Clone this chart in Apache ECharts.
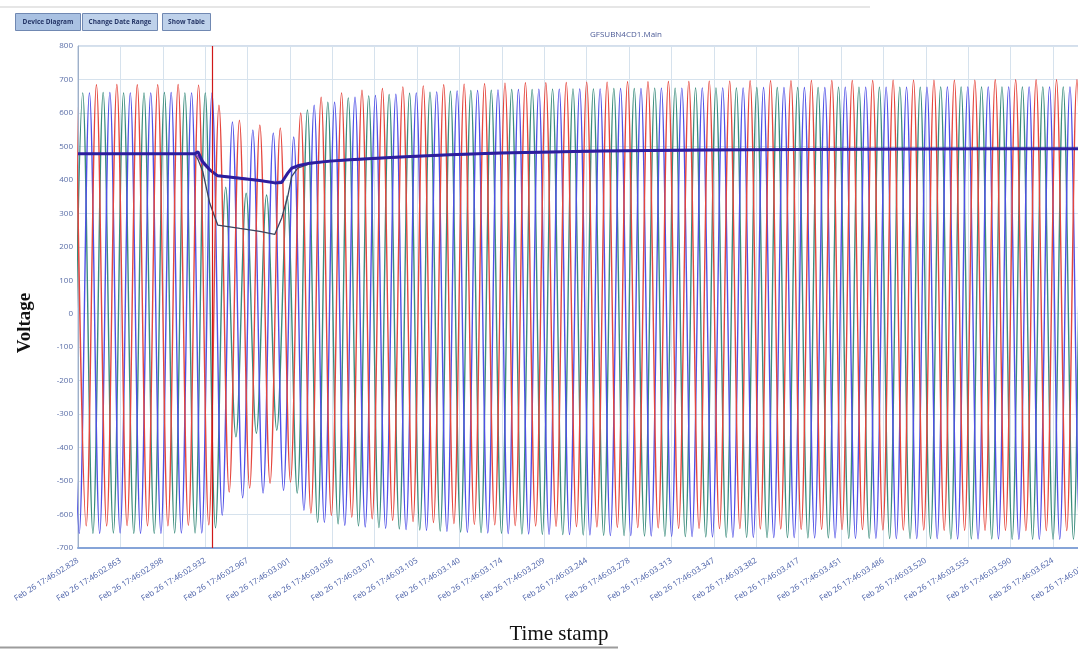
<!DOCTYPE html>
<html>
<head>
<meta charset="utf-8">
<script src="https://cdn.jsdelivr.net/npm/echarts@6/dist/echarts.min.js"></script>
<style>
  html, body { margin: 0; padding: 0; background: #ffffff; }
  #wrap { position: relative; width: 1078px; height: 649px; overflow: hidden; }
  #chart { position: absolute; left: 0; top: 0; width: 1100px; height: 649px; }
</style>
</head>
<body>
<div id="wrap"><div id="chart"></div></div>
<script>
// ---- Data ----
// X tick labels (one every 830/24 ms)
const tickLabels = [
  'Feb 26 17:46:02.828','Feb 26 17:46:02.863','Feb 26 17:46:02.898','Feb 26 17:46:02.932',
  'Feb 26 17:46:02.967','Feb 26 17:46:03.001','Feb 26 17:46:03.036','Feb 26 17:46:03.071',
  'Feb 26 17:46:03.105','Feb 26 17:46:03.140','Feb 26 17:46:03.174','Feb 26 17:46:03.209',
  'Feb 26 17:46:03.244','Feb 26 17:46:03.278','Feb 26 17:46:03.313','Feb 26 17:46:03.347',
  'Feb 26 17:46:03.382','Feb 26 17:46:03.417','Feb 26 17:46:03.451','Feb 26 17:46:03.486',
  'Feb 26 17:46:03.520','Feb 26 17:46:03.555','Feb 26 17:46:03.590','Feb 26 17:46:03.624',
  'Feb 26 17:46:03.659'
];
const axisSpanMs = 830;          // time covered by the 24 tick intervals (ms)
const halfCycleMs = 8.333;       // 60 Hz half cycle (ms): spacing of the peaks/troughs below
// time (ms) of first extreme of each phase
const greenStartMs = -4.48;
const blueStartMs = -7.33;
const redStartMs = -1.63;

// successive peak / trough voltages of each phase (alternating)
const greenExtremes = [
  -656, 660, -656, 661, -655, 660, -656, 660, -656, 661, -655, 660, -655, 660, -640, 378,
  -368, 360, -357, 355, -348, 352, -536, 609, -623, 632, -628, 645, -634, 651, -639, 655,
  -643, 659, -646, 662, -649, 665, -652, 667, -654, 668, -656, 670, -658, 670, -659, 671,
  -660, 672, -661, 672, -662, 673, -663, 673, -664, 674, -665, 674, -666, 675, -667, 675,
  -668, 675, -668, 676, -669, 676, -669, 676, -670, 676, -670, 677, -671, 677, -671, 677,
  -672, 677, -672, 677, -672, 678, -673, 678, -673, 678, -673, 678, -674, 678, -674, 678,
  -674, 678, -674, 678, -674, 678
];
const blueExtremes = [
  660, -656, 660, -656, 661, -655, 660, -656, 660, -656, 661, -655, 660, -655, 660, -602,
  573, -550, 549, -536, 540, -528, 528, -587, 623, -623, 632, -632, 647, -637, 652, -641,
  656, -645, 660, -647, 663, -650, 666, -653, 667, -655, 669, -657, 670, -658, 671, -659,
  671, -660, 672, -661, 672, -663, 673, -663, 673, -664, 674, -665, 674, -666, 675, -667,
  675, -668, 675, -668, 676, -669, 676, -669, 676, -670, 676, -670, 677, -671, 677, -671,
  677, -672, 677, -672, 677, -672, 678, -673, 678, -673, 678, -673, 678, -674, 678, -674,
  678, -674, 678, -674, 678, -674
];
const redExtremes = [
  684, -634, 684, -634, 685, -633, 684, -634, 684, -634, 685, -632, 683, -631, 623, -533,
  578, -521, 564, -507, 555, -503, 600, -596, 647, -602, 660, -608, 668, -613, 673, -617,
  678, -621, 681, -624, 684, -627, 686, -629, 687, -631, 689, -633, 690, -634, 690, -635,
  691, -636, 692, -637, 692, -638, 693, -639, 693, -640, 694, -641, 694, -641, 695, -642,
  695, -642, 696, -643, 696, -643, 696, -644, 697, -644, 697, -645, 697, -645, 697, -646,
  698, -646, 698, -646, 698, -647, 698, -647, 698, -647, 699, -647, 699, -648, 699, -648,
  699, -648, 699, -648, 699, -648
];

// RMS traces
const rmsTimesMs = [0, 17.9, 58.7, 91.2, 95.3, 97.8, 101.8, 107.5, 114.0, 132.0, 148.3, 160.5,
  166.2, 171.1, 174.3, 179.2, 189.0, 205.3, 221.6, 262.3, 303.0, 343.8, 425.2, 506.7, 588.1,
  669.6, 751.0, 832.5];
const rmsNavy = [478, 478, 478, 478, 478, 484, 454, 430, 412, 405, 398, 391, 392, 420, 435, 442,
  450, 456, 460, 468, 475, 480, 486, 489, 491, 492, 493, 493];
const rmsPurple = [478, 478, 478, 478, 478, 470, 448, 428, 414, 406, 399, 392, 396, 418, 432, 440,
  449, 455, 459, 467, 474, 479, 485, 488, 490, 491, 492, 492];
const rmsGray = [478, 478, 478, 478, 476, 462, 425, 330, 265, 255, 246, 237, 286, 350, 410, 435,
  448, 455, 459, 467, 474, 479, 485, 488, 490, 491, 492, 492];

const cursorMs = 109.2;
const yTicks = { min: -700, max: 800, step: 100 };
const titleText = 'GFSUBN4CD1.Main';
const buttonLabels = ['Device Diagram', 'Change Date Range', 'Show Table'];

// ---- Build ----
const tickMs = axisSpanMs / (tickLabels.length - 1);
function wave(start, vals) { return vals.map((v, i) => [start + i * halfCycleMs, v]); }
function pairs(ts, vs) { return ts.map((t, i) => [t, vs[i]]); }

const chart = echarts.init(document.getElementById('chart'), null, { renderer: 'canvas' });

const waveStyle = (color) => ({
  type: 'line', showSymbol: false, smooth: 0.36, smoothMonotone: null,
  lineStyle: { width: 1.4, color: color }, itemStyle: { color: color },
  clip: true, silent: true, z: 2
});
const btnX = [15, 82, 162], btnW = [65, 75, 48];

chart.setOption({
  animation: false,
  backgroundColor: '#ffffff',
  title: {
    text: titleText, left: 585, top: 26,
    textStyle: { fontSize: 8, fontWeight: 'normal', color: '#4b5a96', fontFamily: 'Open Sans' }
  },
  grid: {
    left: 78, top: 46, right: 3, bottom: 101, show: true,
    borderColor: '#a9bcd8', borderWidth: 1, backgroundColor: 'transparent'
  },
  xAxis: {
    type: 'value', min: 0, max: axisSpanMs, interval: tickMs,
    axisLine: { show: true, onZero: false, lineStyle: { color: '#86a4d8', width: 2 } },
    axisTick: { show: false },
    splitLine: { show: true, lineStyle: { color: '#d6e2ed', width: 1 } },
    axisLabel: {
      rotate: 32, margin: 12, fontSize: 8, color: '#4a60a8', fontFamily: 'Open Sans',
      showMinLabel: true, showMaxLabel: true,
      formatter: (v) => tickLabels[Math.round(v / tickMs)] || ''
    }
  },
  yAxis: {
    type: 'value', min: yTicks.min, max: yTicks.max, interval: yTicks.step,
    axisLine: { show: true, onZero: false, lineStyle: { color: '#9fb0c8', width: 1 } },
    axisTick: { show: false },
    splitLine: { show: true, lineStyle: { color: '#d6e2ed', width: 1 } },
    axisLabel: { margin: 5, fontSize: 8, color: '#5a6ea8', fontFamily: 'Open Sans' }
  },
  graphic: [
    { type: 'line', shape: { x1: 0, y1: 7, x2: 870, y2: 7 }, style: { stroke: '#e6e6e6', lineWidth: 2 } },
    { type: 'line', shape: { x1: 0, y1: 647.5, x2: 618, y2: 647.5 }, style: { stroke: '#9c9c9c', lineWidth: 2 } },
    ...buttonLabels.map((t, i) => ({
      type: 'group', left: btnX[i], top: 13,
      children: [
        { type: 'rect', shape: { x: 0, y: 0, width: btnW[i], height: 17 },
          style: { fill: i === 0 ? '#a9c1e2' : '#bed1ea', stroke: '#7088b2', lineWidth: 1 } },
        { type: 'text', x: btnW[i] / 2, y: 8.5,
          style: { text: t, fill: '#243566', font: 'bold 6.5px "Open Sans"', align: 'center', verticalAlign: 'middle' } }
      ]
    })),
    { type: 'text', x: 25, y: 323, rotation: Math.PI / 2,
      style: { text: 'Voltage', fill: '#111111', font: 'bold 19px "Liberation Serif"', align: 'center', verticalAlign: 'middle' } },
    { type: 'text', x: 559, y: 634,
      style: { text: 'Time stamp', fill: '#111111', font: '21px "Liberation Serif"', align: 'center', verticalAlign: 'middle' } }
  ],
  series: [
    Object.assign(waveStyle('#3a8c7c'), { name: 'Phase B', data: wave(greenStartMs, greenExtremes) }),
    Object.assign(waveStyle('#4f50e6'), { name: 'Phase C', data: wave(blueStartMs, blueExtremes) }),
    Object.assign(waveStyle('#e5463d'), { name: 'Phase A', data: wave(redStartMs, redExtremes) }),
    { name: 'RMS B', type: 'line', showSymbol: false, silent: true, z: 3,
      lineStyle: { width: 1.3, color: '#3a4560' }, data: pairs(rmsTimesMs, rmsGray) },
    { name: 'RMS A', type: 'line', showSymbol: false, silent: true, z: 3,
      lineStyle: { width: 1.5, color: '#9a3fc8' }, data: pairs(rmsTimesMs, rmsPurple) },
    { name: 'RMS C', type: 'line', showSymbol: false, silent: true, z: 4,
      lineStyle: { width: 3, color: '#2c1e9e' }, data: pairs(rmsTimesMs, rmsNavy),
      markLine: {
        silent: true, symbol: 'none', label: { show: false },
        lineStyle: { color: '#d01818', width: 1.2, type: 'solid' },
        data: [{ xAxis: cursorMs }]
      } }
  ]
});
</script>
</body>
</html>
